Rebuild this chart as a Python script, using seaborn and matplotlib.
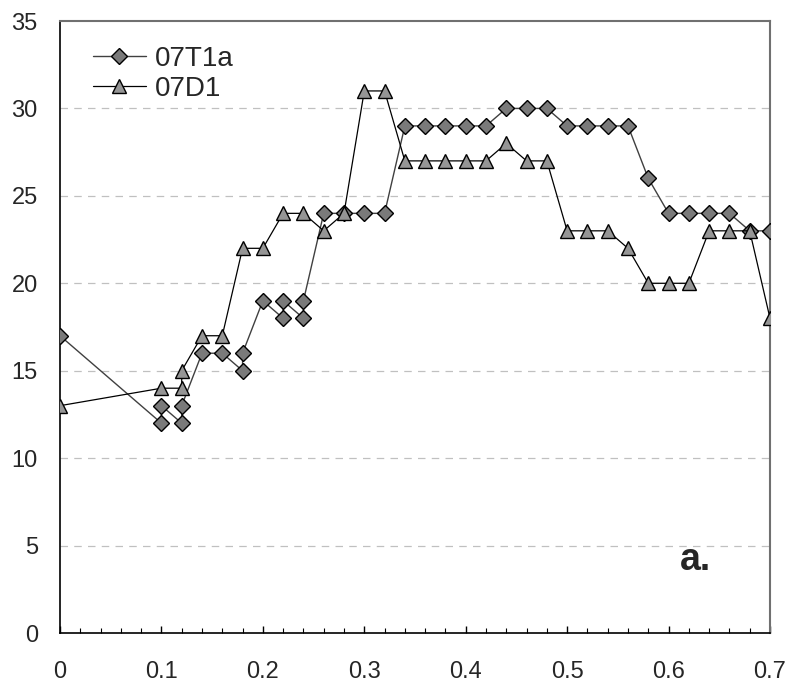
import matplotlib
matplotlib.use("Agg")
import matplotlib.pyplot as plt
import seaborn as sns
import pandas as pd
from matplotlib.ticker import MultipleLocator

# ---- data ----
t1a_x = [0, 0.1, 0.1, 0.12, 0.12, 0.14, 0.16, 0.18, 0.18, 0.2, 0.22, 0.22, 0.24, 0.24,
         0.26, 0.28, 0.30, 0.32, 0.34, 0.36, 0.38, 0.40, 0.42, 0.44, 0.46, 0.48,
         0.50, 0.52, 0.54, 0.56, 0.58, 0.60, 0.62, 0.64, 0.66, 0.68, 0.70]
t1a_y = [17, 12, 13, 12, 13, 16, 16, 15, 16, 19, 18, 19, 18, 19,
         24, 24, 24, 24, 29, 29, 29, 29, 29, 30, 30, 30,
         29, 29, 29, 29, 26, 24, 24, 24, 24, 23, 23]

d1_x = [0, 0.1, 0.12, 0.12, 0.14, 0.16, 0.18, 0.2, 0.22, 0.24, 0.26, 0.28, 0.30, 0.32,
        0.34, 0.36, 0.38, 0.40, 0.42, 0.44, 0.46, 0.48, 0.50, 0.52, 0.54, 0.56,
        0.58, 0.60, 0.62, 0.64, 0.66, 0.68, 0.70]
d1_y = [13, 14, 14, 15, 17, 17, 22, 22, 24, 24, 23, 24, 31, 31,
        27, 27, 27, 27, 27, 28, 27, 27, 23, 23, 23, 22,
        20, 20, 20, 23, 23, 23, 18]

series_names = ["07T1a", "07D1"]
x_ticks = [0, 0.1, 0.2, 0.3, 0.4, 0.5, 0.6, 0.7]
x_tick_labels = ["0", "0.1", "0.2", "0.3", "0.4", "0.5", "0.6", "0.7"]
y_ticks = [0, 5, 10, 15, 20, 25, 30, 35]
panel_label = "a."

sns.set_style("white")
plt.rcParams["font.family"] = ["Liberation Sans", "DejaVu Sans"]

df_t = pd.DataFrame({"x": t1a_x, "y": t1a_y})
df_d = pd.DataFrame({"x": d1_x, "y": d1_y})

fig = plt.figure(figsize=(7.93, 6.86), dpi=100)
ax = fig.add_axes([60 / 793, 1 - 633 / 686, 710 / 793, 612 / 686])

# gridlines
for yv in y_ticks[1:-1]:
    ax.axhline(yv, color="#c0c0c0", lw=0.9, ls=(0, (6, 5)), zorder=0)

sns.lineplot(data=df_t, x="x", y="y", sort=False, estimator=None, ax=ax,
             color="#404040", lw=1.0, marker="D", markersize=8,
             markerfacecolor="#7a7a7a", markeredgecolor="black",
             markeredgewidth=1.0, label=series_names[0], zorder=3)
sns.lineplot(data=df_d, x="x", y="y", sort=False, estimator=None, ax=ax,
             color="black", lw=0.9, marker="^", markersize=10,
             markerfacecolor="#959595", markeredgecolor="black",
             markeredgewidth=1.0, label=series_names[1], zorder=3)

ax.set_xlim(0, 0.7)
ax.set_ylim(0, 35)
ax.set_xticks(x_ticks)
ax.set_xticklabels(x_tick_labels)
ax.set_yticks(y_ticks)
ax.xaxis.set_minor_locator(MultipleLocator(0.02))
ax.set_xlabel("")
ax.set_ylabel("")

ax.tick_params(axis="x", which="major", direction="in", length=5, width=1,
               color="black", labelsize=17, pad=20.5, bottom=True)
ax.tick_params(axis="x", which="minor", direction="in", length=3.5, width=0.8,
               color="black", bottom=True)
ax.tick_params(axis="y", which="both", length=0, labelsize=17, pad=16)

for side in ["left", "bottom"]:
    ax.spines[side].set_color("black")
    ax.spines[side].set_linewidth(1.2)
for side in ["top", "right"]:
    ax.spines[side].set_color("#707070")
    ax.spines[side].set_linewidth(1.5)
    ax.spines[side].set_visible(True)

leg = ax.legend(loc="upper left", bbox_to_anchor=(0.011, 1.0), frameon=False,
                fontsize=20, handlelength=1.9, handletextpad=0.35,
                labelspacing=0.15, borderaxespad=0.3, borderpad=0.6)

ax.text(0.611, 3.6, panel_label, fontsize=27, fontweight="bold",
        ha="left", va="baseline")

fig.savefig("out.png", dpi=100)
